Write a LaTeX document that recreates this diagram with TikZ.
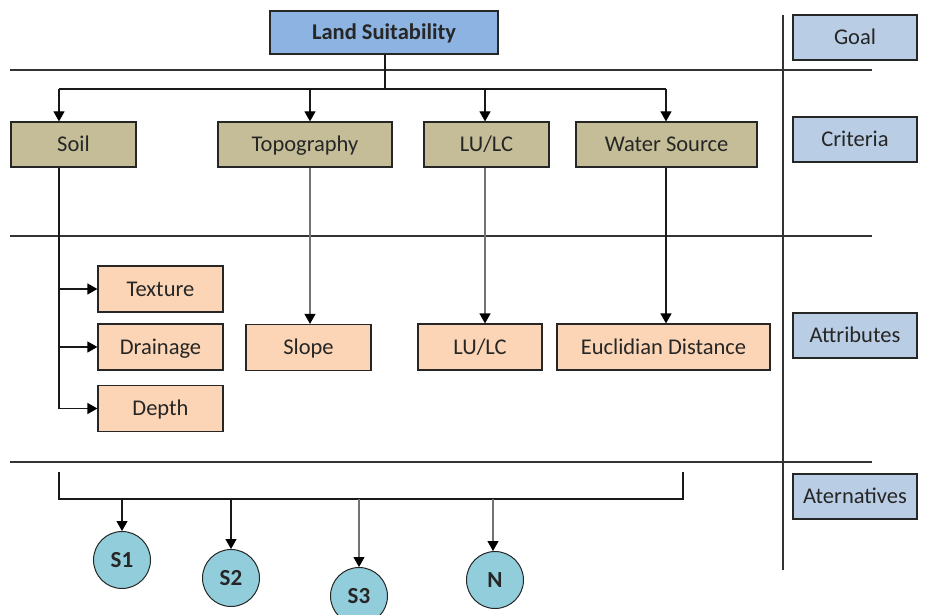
\documentclass[tikz,border=0pt]{standalone}
\usepackage{fontspec}
\setmainfont{Carlito}
\usetikzlibrary{arrows.meta}
\definecolor{goalfill}{HTML}{8DB3E2}
\definecolor{lvlfill}{HTML}{B9CDE5}
\definecolor{critfill}{HTML}{C4BD97}
\definecolor{attrfill}{HTML}{FBD5B5}
\definecolor{altfill}{HTML}{92CDDC}
\begin{document}
\begin{tikzpicture}[x=1pt,y=-1pt,
  box/.style={draw=black!85, line width=1.2pt, inner sep=0pt, text=black!85, text height=15.5pt, text depth=1pt, font=\fontsize{22.5}{26}\selectfont},
  crit/.style={box, fill=critfill, minimum height=45pt},
  attr/.style={box, fill=attrfill, minimum height=46pt},
  lvl/.style={box, fill=lvlfill, minimum width=124pt, minimum height=45pt},
  alt/.style={circle, draw=black!85, line width=1pt, fill=altfill, minimum size=57pt, inner sep=0pt, text=black!85, font=\fontsize{23}{26}\selectfont\bfseries},
  conn/.style={line width=1.2pt, draw=black!90},
  gconn/.style={line width=1.2pt, draw=black!55},
  tip/.style={-{Triangle[width=11pt,length=10pt,color=black]}},
  arr/.style={conn, tip},
  garr/.style={gconn, tip},
  sep/.style={line width=1.2pt, draw=black!80}]
\useasboundingbox (0,0) rectangle (928,615);

% separators
\draw[sep] (10,70) -- (872,70);
\draw[sep] (10,236) -- (872,236);
\draw[sep] (10,462) -- (872,462);
\draw[sep] (783,15) -- (783,570);

% level labels
\node[lvl] (lgoal) at (855,37.5) {Goal};
\node[lvl] (lcrit) at (855,139.5) {Criteria};
\node[lvl] (lattr) at (855,335.5) {Attributes};
\node[lvl] (lalt) at (855,496.5) {Aternatives};

% goal
\node[box, fill=goalfill, minimum width=228pt, minimum height=43pt, font=\fontsize{22.5}{26}\selectfont\bfseries] (goal) at (384,32.5) {Land Suitability};

% criteria
\node[crit, minimum width=125pt] (soil) at (73.5,144.5) {Soil};
\node[crit, minimum width=174pt] (topo) at (305,144.5) {Topography};
\node[crit, minimum width=125pt] (lulc) at (486.5,144.5) {LU/LC};
\node[crit, minimum width=181pt] (water) at (666.5,144.5) {Water Source};

% attributes
\node[attr, minimum width=125pt] (texture) at (160.5,289) {Texture};
\node[attr, minimum width=125pt] (drainage) at (160.5,347) {Drainage};
\node[attr, minimum width=125pt] (depth) at (160.5,408.5) {Depth};
\node[attr, minimum width=125pt] (slope) at (308.5,347.5) {Slope};
\node[attr, minimum width=124pt] (lulca) at (480,347) {LU/LC};
\node[attr, minimum width=213pt] (euclid) at (663.5,347) {Euclidian Distance};

% alternatives
\node[alt] (s1) at (122,560) {S1};
\node[alt] (s2) at (231,578) {S2};
\node[alt] (s3) at (359,596) {S3};
\node[alt] (n) at (495,580) {N};

% goal to criteria
\coordinate (bus) at (385,89);
\coordinate (busl) at (59,89);
\coordinate (busr) at (666,89);
\draw[conn] (goal.south -| bus) -- (bus);
\draw[conn] (busl) -- (busr);
\draw[arr] (busl) -- (busl |- soil.north);
\draw[arr] (310,89) -- (310,0 |- topo.north);
\draw[arr] (485,89) -- (485,0 |- lulc.north);
\draw[arr] (busr) -- (busr |- water.north);

% criteria to attributes
\coordinate (soilx) at (59,0 |- soil.south);
\draw[conn] (soilx) -- (soilx |- depth.west);
\draw[arr] (soilx |- texture.west) -- (texture.west);
\draw[arr] (soilx |- drainage.west) -- (drainage.west);
\draw[arr] (soilx |- depth.west) -- (depth.west);
\draw[garr] (310,0 |- topo.south) -- (310,0 |- slope.north);
\draw[garr] (485,0 |- lulc.south) -- (485,0 |- lulca.north);
\draw[arr] (666,0 |- water.south) -- (666,0 |- euclid.north);

% bracket to alternatives
\coordinate (bl) at (59,499);
\coordinate (br) at (683,499);
\draw[conn] (59,472) -- (bl) -- (br) -- (683,472);
\draw[arr] (s1 |- bl) -- (s1.north);
\draw[arr] (s2 |- bl) -- (s2.north);
\draw[garr] (s3 |- bl) -- (s3.north);
\draw[garr] (493,499) -- (493,0 |- n.north);
\end{tikzpicture}
\end{document}
